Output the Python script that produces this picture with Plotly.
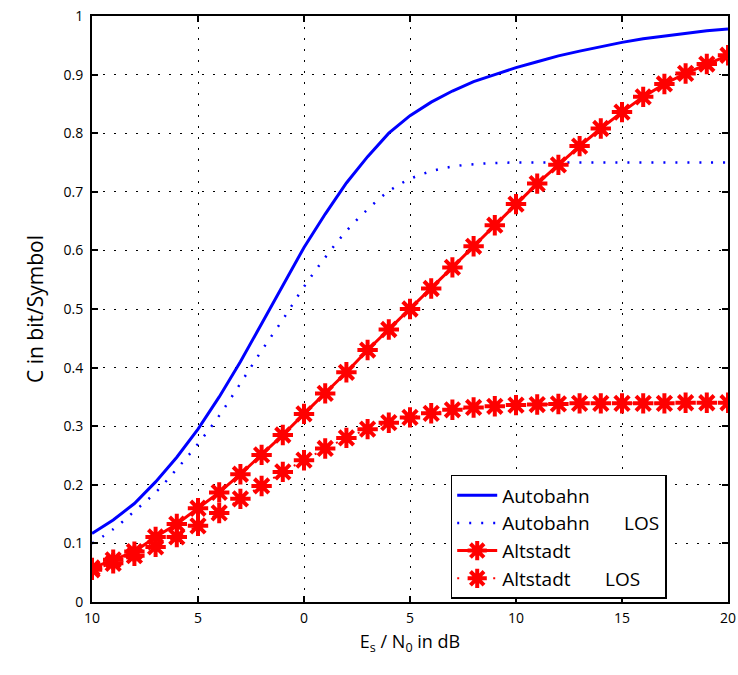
import plotly.graph_objects as go

snr_db = list(range(-10, 21))

autobahn = [0.117, 0.140, 0.168, 0.205, 0.247, 0.295, 0.350, 0.410, 0.475, 0.540, 0.605,
            0.662, 0.715, 0.760, 0.800, 0.830, 0.853, 0.872, 0.888, 0.900, 0.912,
            0.922, 0.932, 0.940, 0.948, 0.955, 0.961, 0.966, 0.971, 0.975, 0.978]
autobahn_los = [0.100, 0.124, 0.155, 0.187, 0.227, 0.270, 0.318, 0.373, 0.429, 0.482, 0.538,
                0.588, 0.633, 0.670, 0.701, 0.722, 0.735, 0.743, 0.747, 0.749, 0.750,
                0.750, 0.750, 0.750, 0.750, 0.750, 0.750, 0.750, 0.750, 0.750, 0.750]
altstadt = [0.058, 0.072, 0.086, 0.111, 0.133, 0.160, 0.187, 0.218, 0.251, 0.285, 0.321,
            0.356, 0.392, 0.430, 0.465, 0.500, 0.535, 0.571, 0.607, 0.643, 0.679,
            0.714, 0.746, 0.778, 0.808, 0.836, 0.862, 0.884, 0.902, 0.918, 0.933]
altstadt_los = [0.055, 0.066, 0.079, 0.094, 0.111, 0.130, 0.152, 0.176, 0.198, 0.222, 0.242,
                0.262, 0.280, 0.295, 0.306, 0.315, 0.322, 0.328, 0.332, 0.334, 0.336,
                0.337, 0.338, 0.339, 0.339, 0.339, 0.339, 0.339, 0.340, 0.340, 0.340]

x_tickvals = [-10, -5, 0, 5, 10, 15, 20]
x_ticktext = ["10", "5", "0", "5", "10", "15", "20"]
y_tickvals = [0, 0.1, 0.2, 0.3, 0.4, 0.5, 0.6, 0.7, 0.8, 0.9, 1]

FONT = "Open Sans, Noto Sans, sans-serif"
NB = "\u00a0"

fig = go.Figure()
fig.add_trace(go.Scatter(x=snr_db, y=autobahn, mode="lines", name="Autobahn",
                         line=dict(color="#0000ff", width=3)))
fig.add_trace(go.Scatter(x=snr_db, y=autobahn_los, mode="lines", name="Autobahn" + NB * 7 + "LOS",
                         line=dict(color="#0000ff", width=2.5, dash="2px,10px", shape="spline")))
fig.add_trace(go.Scatter(x=snr_db, y=altstadt, mode="lines+markers", name="Altstadt",
                         line=dict(color="#ff0000", width=3),
                         marker=dict(symbol="asterisk-open", size=17, color="#ff0000",
                                     line=dict(color="#ff0000", width=4))))
fig.add_trace(go.Scatter(x=snr_db, y=altstadt_los, mode="lines+markers", name="Altstadt" + NB * 7 + "LOS",
                         line=dict(color="#ff0000", width=2, dash="2px,10px"),
                         marker=dict(symbol="asterisk-open", size=17, color="#ff0000",
                                     line=dict(color="#ff0000", width=4))))

axis_common = dict(showline=True, linecolor="black", linewidth=2, mirror="ticks",
                   ticks="inside", ticklen=6, tickwidth=1.5, tickcolor="black",
                   showgrid=True, gridcolor="black", gridwidth=1, griddash="2px,9px",
                   zeroline=False, automargin=False,
                   tickfont=dict(family=FONT, size=14, color="black"))

fig.update_xaxes(range=[-10, 20], tickvals=x_tickvals, ticktext=x_ticktext,
                 ticklabelstandoff=2,
                 title=dict(text="E<sub>s</sub> / N<sub>0</sub> in dB",
                            font=dict(family=FONT, size=18, color="black"), standoff=10),
                 **axis_common)
fig.update_yaxes(range=[0, 1], tickvals=y_tickvals, ticklabelstandoff=4,
                 title=dict(text="C in bit/Symbol",
                            font=dict(family=FONT, size=21, color="black"), standoff=14),
                 **axis_common)

fig.update_layout(
    width=738, height=675,
    margin=dict(l=92, r=10, t=16, b=73, autoexpand=False),
    plot_bgcolor="white", paper_bgcolor="white",
    font=dict(family=FONT, color="black"),
    legend=dict(x=0.564, y=0.217, xanchor="left", yanchor="top",
                bgcolor="white", bordercolor="black", borderwidth=1.5,
                font=dict(family=FONT, size=19, color="black"),
                itemwidth=40, tracegroupgap=0),
    showlegend=True,
)

fig.write_html("out.html", config={"displayModeBar": False},
               post_script="document.body.style.margin='0';document.body.style.padding='0';")
